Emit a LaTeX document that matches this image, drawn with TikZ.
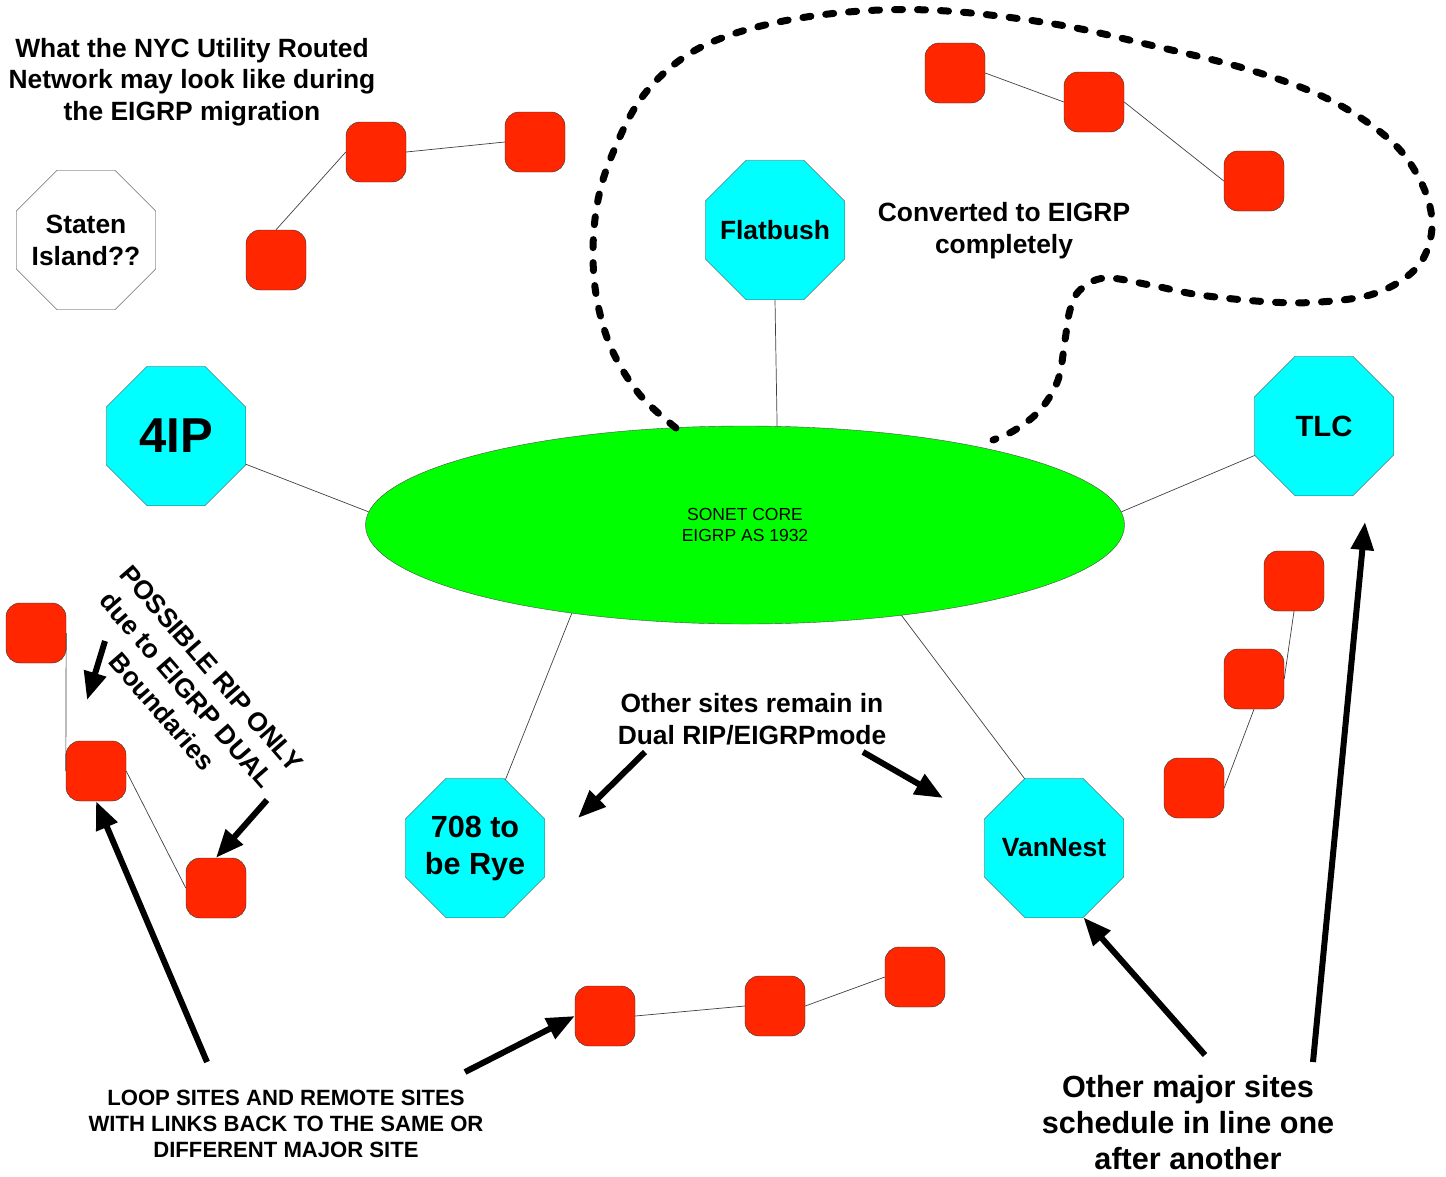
\documentclass[tikz,border=0pt]{standalone}
\usepackage{fontspec}
\setmainfont{Liberation Sans}
\usetikzlibrary{shapes.geometric,arrows.meta}
\definecolor{sitered}{RGB}{255,38,0}
\definecolor{majorcyan}{RGB}{0,255,255}
\definecolor{coregreen}{RGB}{0,255,0}
\tikzset{
  site/.style={draw=black!80,fill=sitered,rounded corners=14pt,minimum width=60pt,minimum height=60pt,inner sep=0pt},
  major/.style={draw=black!70,fill=majorcyan,regular polygon,regular polygon sides=8,minimum size=151pt,inner sep=0pt},
  majortext/.style 2 args={align=center,font=\fontsize{#1}{#2}\selectfont\bfseries},
  link/.style={draw=black!75,line width=0.7pt},
  bigarrow/.style={line width=6pt,-{Triangle[length=28pt,width=22pt]}},
  note/.style={align=center,font=\fontsize{26.4}{31.5}\selectfont\bfseries}
}
\begin{document}
\begin{tikzpicture}[x=1pt,y=-1pt]
  \useasboundingbox (0,0) rectangle (1446,1176);
  % core ring
  \node[ellipse,draw=black!70,fill=coregreen,minimum width=759pt,minimum height=198pt,inner sep=0pt,align=center,font=\fontsize{17.5}{21}\selectfont] (core) at (745,525) {SONET CORE\\EIGRP AS 1932};
  % major sites
  \node[major,fill=white,draw=black!80,label={[majortext={26.4}{32}]center:Staten\\Island??}] (staten) at (86,240) {};
  \node[major,label={[majortext={49}{56}]center:4IP}] (fourip) at (176,436) {};
  \node[major,label={[majortext={26.4}{32}]center:Flatbush}] (flatbush) at (775,230) {};
  \node[major,label={[majortext={29.3}{34}]center:TLC}] (tlc) at (1324,426) {};
  \node[major,label={[majortext={30.6}{37}]center:708 to\\be Rye}] (rye) at (475,848) {};
  \node[major,label={[majortext={26.4}{32}]center:VanNest}] (vannest) at (1054,848) {};
  \draw[link] (fourip.-22.5) -- (core.178.5);
  \draw[link] (flatbush.south) -- (core.72);
  \draw[link] (tlc.203) -- (core.2.3);
  \draw[link] (rye.66) -- (core.207);
  \draw[link] (vannest.113) -- (core.-30);
  % remote sites, top left
  \node[site] (r1) at (376,152) {};
  \node[site] (r2) at (535,142) {};
  \node[site] (r3) at (276,260) {};
  \draw[link] (r3.north) -- (r1.west);
  \draw[link] (r1.east) -- (r2.west);
  % converted sites
  \node[site] (r4) at (955,73) {};
  \node[site] (r5) at (1094,102) {};
  \node[site] (r6) at (1254,181) {};
  \draw[link] (r4.east) -- (r5.west);
  \draw[link] (r5.east) -- (r6.west);
  % loop sites, left
  \node[site] (r7) at (36,633) {};
  \node[site] (r8) at (96,771) {};
  \node[site] (r9) at (216,888) {};
  \draw[link] (r7.east) -- (r8.west);
  \draw[link] (r8.east) -- (r9.west);
  % remote sites, right
  \node[site] (r10) at (1294,581) {};
  \node[site] (r11) at (1254,679) {};
  \node[site] (r12) at (1194,788) {};
  \draw[link] (r10.south) -- (r11.east);
  \draw[link] (r11.south) -- (r12.east);
  % remote sites, bottom
  \node[site] (r13) at (605,1016) {};
  \node[site] (r14) at (775,1006) {};
  \node[site] (r15) at (915,977) {};
  \draw[link] (r13.east) -- (r14.west);
  \draw[link] (r14.east) -- (r15.west);
  % EIGRP boundary
  \draw[line width=7pt,dash pattern=on 8pt off 15pt,line cap=round] plot[smooth,tension=0.6] coordinates {(676,428) (640,395) (612,350) (597,300) (593,250) (598,200) (612,155) (640,100) (680,60) (730,35) (800,18) (880,10) (960,12) (1060,25) (1150,45) (1250,70) (1330,100) (1390,140) (1420,180) (1432,220) (1425,255) (1405,278) (1370,295) (1320,302) (1270,302) (1200,295) (1150,285) (1105,278) (1080,290) (1070,310) (1065,340) (1058,380) (1040,410) (1015,430) (993,440)};
  % labels
  \node[note] (title) at (192,82) {What the NYC Utility Routed\\Network may look like during\\the EIGRP migration};
  \node[note,font=\fontsize{26.4}{32}\selectfont\bfseries] (converted) at (1004,231) {Converted to EIGRP\\completely};
  \node[note] (remain) at (752,719) {Other sites remain in\\Dual RIP/EIGRPmode};
  \node[note,rotate=-49,font=\fontsize{26.4}{33}\selectfont\bfseries] (ripnote) at (187,690) {POSSIBLE RIP ONLY\\due to EIGRP DUAL\\Boundaries};
  \node[note,font=\fontsize{22.1}{26}\selectfont\bfseries] (loopnote) at (286,1124) {LOOP SITES AND REMOTE SITES\\WITH LINKS BACK TO THE SAME OR\\DIFFERENT MAJOR SITE};
  \node[note,font=\fontsize{30.6}{36}\selectfont\bfseries] (majornote) at (1188,1123) {Other major sites\\schedule in line one\\after another};
  % arrow ends
  \coordinate (ripa) at (105,641);
  \coordinate (ripatip) at (87,700);
  \coordinate (ripb) at (267,800);
  \coordinate (loopa) at (207,1062);
  \coordinate (loopb) at (465,1072);
  \coordinate (remaina) at (645,752);
  \coordinate (remainatip) at (578,818);
  \coordinate (remainb) at (863,752);
  \coordinate (remainbtip) at (943,798);
  \coordinate (majora) at (1205,1055);
  \coordinate (majorb) at (1313,1062);
  \coordinate (majorbtip) at (1365,522);
  \draw[bigarrow] (ripa) -- (ripatip);
  \draw[bigarrow] (ripb) -- (r9.north);
  \draw[bigarrow] (loopa) -- (r8.south);
  \draw[bigarrow] (loopb) -- (r13.west);
  \draw[bigarrow] (remaina) -- (remainatip);
  \draw[bigarrow] (remainb) -- (remainbtip);
  \draw[bigarrow] (majora) -- (vannest.-67.5);
  \draw[bigarrow] (majorb) -- (majorbtip);
\end{tikzpicture}
\end{document}
